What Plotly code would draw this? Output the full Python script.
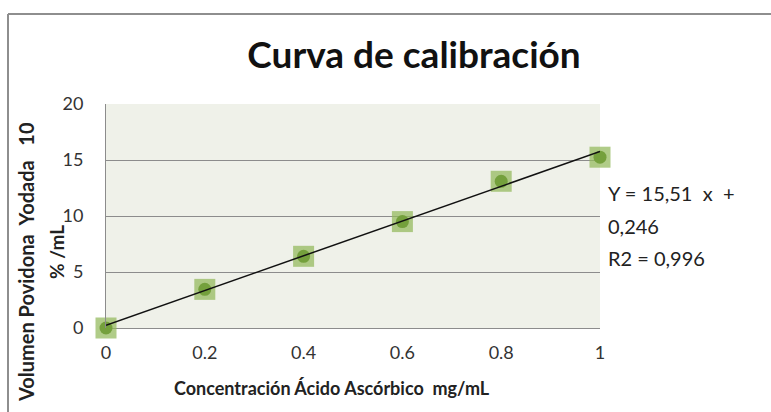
import plotly.graph_objects as go

concentracion = [0, 0.2, 0.4, 0.6, 0.8, 1.0]
volumen = [0.0, 3.45, 6.4, 9.5, 13.1, 15.25]
pendiente = 15.51
intercepto = 0.246
x_ticks = [0, 0.2, 0.4, 0.6, 0.8, 1]
x_ticklabels = ["0", "0.2", "0.4", "0.6", "0.8", "1"]
y_ticks = [0, 5, 10, 15, 20]
ecuacion = ["Y = 15,51\u00a0\u00a0x\u00a0\u00a0+", "0,246", "R2 = 0,996"]

FONT = "Lato"
W, H = 771, 412
L, R, T, B = 106, 600, 104, 328

trend_x = [0, 1]
trend_y = [pendiente * x + intercepto for x in trend_x]

fig = go.Figure()
fig.add_trace(go.Scatter(
    x=concentracion, y=volumen, mode="markers",
    marker=dict(symbol="square", size=21, color="rgba(145,185,90,0.72)", line=dict(width=0)),
    cliponaxis=False, showlegend=False, hoverinfo="skip"))
fig.add_trace(go.Scatter(
    x=concentracion, y=volumen, mode="markers",
    marker=dict(symbol="circle", size=13, color="#74A03C", line=dict(width=0)),
    cliponaxis=False, showlegend=False))
fig.add_trace(go.Scatter(
    x=trend_x, y=trend_y, mode="lines",
    line=dict(color="#111111", width=1.5),
    cliponaxis=False, showlegend=False))

def px_x(p):
    return (p - L) / (R - L)

def px_y(p):
    return (B - p) / (B - T)

NB = "\u00a0"

annotations = [
    dict(text="<b>Volumen Povidona" + NB * 2 + "Yodada" + NB * 3 + "10</b>",
         xref="paper", yref="paper",
         x=px_x(26), y=px_y(262), textangle=-90, showarrow=False,
         xanchor="center", yanchor="middle",
         font=dict(family=FONT, size=20, color="#222222")),
    dict(text="<b>% /mL</b>", xref="paper", yref="paper",
         x=px_x(56), y=px_y(252), textangle=-90, showarrow=False,
         xanchor="center", yanchor="middle",
         font=dict(family=FONT, size=19, color="#222222")),
    dict(text="<b>Concentración Ácido Ascórbico" + NB * 2 + "mg/mL</b>",
         xref="paper", yref="paper",
         x=px_x(332), y=px_y(388), showarrow=False,
         xanchor="center", yanchor="middle",
         font=dict(family=FONT, size=18, color="#222222")),
]
for linea, yp in zip(ecuacion, [193, 226, 258]):
    annotations.append(dict(text=linea, xref="paper", yref="paper",
                            x=px_x(606), y=px_y(yp), showarrow=False, align="left",
                            xanchor="left", yanchor="middle",
                            font=dict(family=FONT, size=20, color="#222222")))

fig.update_layout(
    width=W, height=H,
    margin=dict(l=L, r=W - R, t=T, b=H - B, pad=0),
    paper_bgcolor="white",
    plot_bgcolor="#EFF1E9",
    font=dict(family=FONT, color="#222222"),
    title=dict(text="<b>Curva de calibración</b>", x=414 / W, xanchor="center",
               y=1 - 55 / H, yanchor="middle",
               font=dict(family=FONT, size=37, color="#111111")),
    xaxis=dict(range=[0, 1], tickvals=x_ticks, ticktext=x_ticklabels,
               showgrid=False, zeroline=False, showline=False,
               ticks="", ticklabelstandoff=12,
               tickfont=dict(family=FONT, size=18, color="#333333"),
               fixedrange=True),
    yaxis=dict(range=[0, 20], tickvals=y_ticks,
               showgrid=True, gridcolor="#8C8C8C", gridwidth=1,
               zeroline=True, zerolinecolor="#8C8C8C", zerolinewidth=1,
               showline=True, linecolor="#8C8C8C", linewidth=1,
               ticks="", ticklabelstandoff=18,
               tickfont=dict(family=FONT, size=18, color="#333333"),
               fixedrange=True),
    shapes=[
        dict(type="line", xref="paper", yref="paper", x0=px_x(8), x1=px_x(W + 5),
             y0=px_y(14), y1=px_y(14), line=dict(color="#8E8E8E", width=2)),
        dict(type="line", xref="paper", yref="paper", x0=px_x(8), x1=px_x(8),
             y0=px_y(14), y1=px_y(H + 5), line=dict(color="#8E8E8E", width=2)),
    ],
    annotations=annotations,
)

fig.write_html("out.html", post_script="document.body.style.margin='0';",
               config={"displayModeBar": False})
